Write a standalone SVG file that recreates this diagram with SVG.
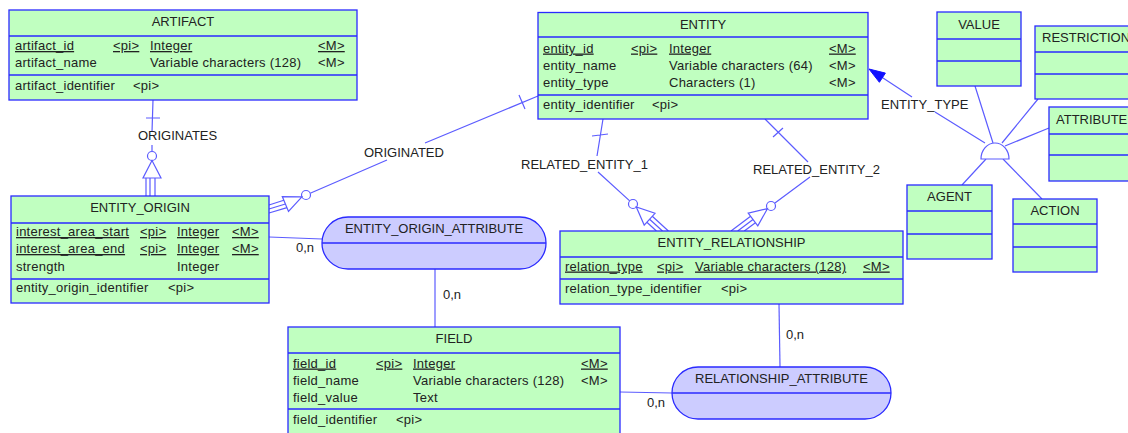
<svg xmlns="http://www.w3.org/2000/svg" width="1128" height="433" viewBox="0 0 1128 433">
<style>
.ent{fill:#c0ffc0;stroke:#2a2aff;stroke-width:1.3}
.div{stroke:#2a2aff;stroke-width:1.3;fill:none}
.assoc{fill:#ccccff;stroke:#2a2aff;stroke-width:1.3}
.c{stroke:#5c5cff;stroke-width:1.2;fill:none}
.cw{stroke:#5c5cff;stroke-width:1.2;fill:#ffffff}
.cf{fill:#1010ff;stroke:#1010ff;stroke-width:1}
text{font-family:"Liberation Sans",Arial,sans-serif;font-size:13px;fill:#222222}
.ent ~ text:not(.t):not(.cap){letter-spacing:0.25px}
.t{text-anchor:middle}
.u{text-decoration:underline}
</style>
<rect width="1128" height="433" fill="#ffffff"/>

<g id="connectors">
  <!-- ORIGINATES -->
  <path class="c" d="M153,100 L152,132 M146,118 L160,118 M152,145 L152,151.5"/>
  <circle class="cw" cx="152" cy="156" r="4.5"/>
  <path class="c" d="M152,160.5 L143,178 L161,178 Z M146,178 L146,196 M150,178 L150,196 M155,178 L155,196"/>
  <text x="138" y="140">ORIGINATES</text>

  <!-- ORIGINATED -->
  <path class="c" d="M538,96 L425,143 M519,95 L525,109 M387,160 L310.2,193.2"/>
  <circle class="cw" cx="306" cy="195" r="4.5"/>
  <path class="c" d="M301.9,196.8 L282.3,196.6 L288.5,211.4 Z M283.8,200.3 L269,205 M285.4,204 L269,209 M287,207.7 L269,213"/>
  <text x="364" y="157">ORIGINATED</text>

  <!-- RELATED_ENTITY_1 -->
  <path class="c" d="M603,119 L597,156 M592,136 L608,134 M598,172 L629.7,200.9"/>
  <circle class="cw" cx="633" cy="204" r="4.5"/>
  <path class="c" d="M636.3,207 L644.2,225.1 L655,213.3 Z M652.3,216.2 L668.4,231 M649.6,219.2 L662.5,231 M646.9,222.2 L656.4,231"/>
  <text x="521" y="169">RELATED_ENTITY_1</text>

  <!-- RELATED_ENTITY_2 -->
  <path class="c" d="M765,119 L808,162 M773,137 L783,128 M810,177 L774.6,203.3"/>
  <circle class="cw" cx="771" cy="206" r="4.5"/>
  <path class="c" d="M767.4,208.7 L757.8,225.9 L748.2,213.1 Z M750.6,216.3 L731,231 M753,219.5 L737.7,231 M755.4,222.7 L744.3,231"/>
  <text x="753" y="174">RELATED_ENTITY_2</text>

  <!-- ENTITY_TYPE inheritance -->
  <path class="c" d="M985,143 L935,112 M912,97 L880,76"/>
  <polygon class="cf" points="869,69 885.4,73.1 879.4,82.3"/>
  <text x="881" y="109">ENTITY_TYPE</text>
  <path class="c" d="M975,86 L993,143 M1038,99 L1002,143 M1049,128 L1005,146 M986,159 L962,185 M1003,159 L1042,199"/>
  <path class="cw" d="M981,159 A14,16 0 0 1 1009,159 Z"/>

  <!-- association links -->
  <path class="c" d="M269,237 L322,239"/>
  <text x="296" y="252">0,n</text>
  <path class="c" d="M435,269 L435,327"/>
  <text x="443" y="299">0,n</text>
  <path class="c" d="M779,304 L780,367"/>
  <text x="786" y="339">0,n</text>
  <path class="c" d="M620,392 L672,393"/>
  <text x="647" y="407">0,n</text>
</g>

<g id="artifact">
  <rect class="ent" x="9" y="10" width="348" height="90"/>
  <path class="div" d="M9,36 H357 M9,75 H357"/>
  <text class="t" x="183" y="26">ARTIFACT</text>
  <text class="u" x="15" y="50">artifact_id</text>
  <text class="u" x="113" y="50">&lt;pi&gt;</text>
  <text class="u" x="150" y="50">Integer</text>
  <text class="u" x="318" y="50">&lt;M&gt;</text>
  <text x="15" y="67">artifact_name</text>
  <text x="150" y="67">Variable characters (128)</text>
  <text x="318" y="67">&lt;M&gt;</text>
  <text x="15" y="90">artifact_identifier</text>
  <text x="133" y="90">&lt;pi&gt;</text>
</g>

<g id="entity">
  <rect class="ent" x="538" y="12.5" width="330" height="106.5"/>
  <path class="div" d="M538,37 H868 M538,95 H868"/>
  <text class="t" x="703" y="28.5">ENTITY</text>
  <text class="u" x="543" y="52.5">entity_id</text>
  <text class="u" x="631" y="52.5">&lt;pi&gt;</text>
  <text class="u" x="669" y="52.5">Integer</text>
  <text class="u" x="829" y="52.5">&lt;M&gt;</text>
  <text x="543" y="69.5">entity_name</text>
  <text x="669" y="69.5">Variable characters (64)</text>
  <text x="829" y="69.5">&lt;M&gt;</text>
  <text x="543" y="86.5">entity_type</text>
  <text x="669" y="86.5">Characters (1)</text>
  <text x="829" y="86.5">&lt;M&gt;</text>
  <text x="543" y="108.5">entity_identifier</text>
  <text x="652" y="108.5">&lt;pi&gt;</text>
</g>

<g id="entity_origin">
  <rect class="ent" x="11" y="196" width="258" height="107"/>
  <path class="div" d="M11,223 H269 M11,279 H269"/>
  <text class="t" x="140" y="212">ENTITY_ORIGIN</text>
  <text class="u" x="16" y="236">interest_area_start</text>
  <text class="u" x="140" y="236">&lt;pi&gt;</text>
  <text class="u" x="177" y="236">Integer</text>
  <text class="u" x="232" y="236">&lt;M&gt;</text>
  <text class="u" x="16" y="253">interest_area_end</text>
  <text class="u" x="140" y="253">&lt;pi&gt;</text>
  <text class="u" x="177" y="253">Integer</text>
  <text class="u" x="232" y="253">&lt;M&gt;</text>
  <text x="16" y="270.5">strength</text>
  <text x="177" y="270.5">Integer</text>
  <text x="16" y="292">entity_origin_identifier</text>
  <text x="168" y="292">&lt;pi&gt;</text>
</g>

<g id="entity_relationship">
  <rect class="ent" x="560" y="231" width="343" height="73"/>
  <path class="div" d="M560,257 H903 M560,279 H903"/>
  <text class="t" x="731.5" y="247">ENTITY_RELATIONSHIP</text>
  <text class="u" x="565" y="270.5">relation_type</text>
  <text class="u" x="657" y="270.5">&lt;pi&gt;</text>
  <text class="u" x="695" y="270.5">Variable characters (128)</text>
  <text class="u" x="863" y="270.5">&lt;M&gt;</text>
  <text x="565" y="293">relation_type_identifier</text>
  <text x="721" y="293">&lt;pi&gt;</text>
</g>

<g id="field">
  <rect class="ent" x="288" y="327" width="332" height="115"/>
  <path class="div" d="M288,353 H620 M288,409 H620"/>
  <text class="t" x="454" y="343">FIELD</text>
  <text class="u" x="293" y="367.5">field_id</text>
  <text class="u" x="376" y="367.5">&lt;pi&gt;</text>
  <text class="u" x="413" y="367.5">Integer</text>
  <text class="u" x="581" y="367.5">&lt;M&gt;</text>
  <text x="293" y="384.5">field_name</text>
  <text x="413" y="384.5">Variable characters (128)</text>
  <text x="581" y="384.5">&lt;M&gt;</text>
  <text x="293" y="401.5">field_value</text>
  <text x="413" y="401.5">Text</text>
  <text x="293" y="424">field_identifier</text>
  <text x="396" y="424">&lt;pi&gt;</text>
</g>

<g id="entity_origin_attribute">
  <rect class="assoc" x="322" y="217" width="224" height="52" rx="26" ry="26"/>
  <path class="div" d="M322,243 H546"/>
  <text class="t" x="434" y="232.5">ENTITY_ORIGIN_ATTRIBUTE</text>
</g>

<g id="relationship_attribute">
  <rect class="assoc" x="672" y="367" width="219" height="52" rx="26" ry="26"/>
  <path class="div" d="M672,393 H891"/>
  <text class="t" x="781.5" y="382.5">RELATIONSHIP_ATTRIBUTE</text>
</g>

<g id="value">
  <rect class="ent" x="937" y="12" width="84" height="74"/>
  <path class="div" d="M937,39 H1021 M937,61 H1021"/>
  <text class="t" x="979" y="28.5">VALUE</text>
</g>

<g id="restriction">
  <rect class="ent" x="1035" y="26" width="100" height="73"/>
  <path class="div" d="M1035,52 H1135 M1035,74 H1135"/>
  <text class="cap" x="1042" y="41.5">RESTRICTION</text>
</g>

<g id="attribute">
  <rect class="ent" x="1049" y="107" width="86" height="74"/>
  <path class="div" d="M1049,134 H1135 M1049,155 H1135"/>
  <text class="cap" x="1056" y="123.5">ATTRIBUTE</text>
</g>

<g id="agent">
  <rect class="ent" x="907" y="185" width="85" height="74"/>
  <path class="div" d="M907,211 H992 M907,234 H992"/>
  <text class="t" x="949.5" y="200.5">AGENT</text>
</g>

<g id="action">
  <rect class="ent" x="1013" y="199" width="84" height="73"/>
  <path class="div" d="M1013,224 H1097 M1013,247 H1097"/>
  <text class="t" x="1055" y="214.5">ACTION</text>
</g>
</svg>
